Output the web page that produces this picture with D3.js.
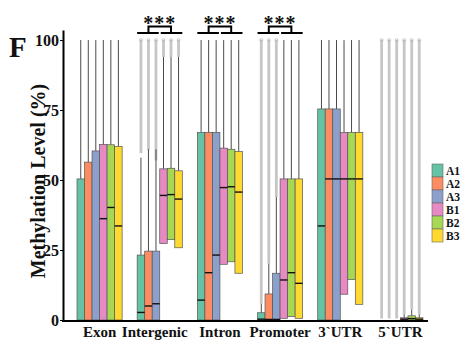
<!doctype html>
<html lang="en">
<head>
  <meta charset="utf-8">
  <title>Methylation level by region</title>
  <script src="https://cdnjs.cloudflare.com/ajax/libs/d3/7.8.5/d3.min.js"></script>
  <style>
    body { margin: 0; background: #fff; }
    text { font-family: "Liberation Serif", "Times New Roman", serif; font-weight: bold; fill: #111; }
  </style>
</head>
<body>
<svg width="472" height="362" id="svg"></svg>
<script>
  // regions on the x axis, samples inside each region
  var categories = ['Exon', 'Intergenic', 'Intron', 'Promoter', '3`UTR', '5`UTR'];
  var samples = ['A1', 'A2', 'A3', 'B1', 'B2', 'B3'];
  var yTicks = [0, 25, 50, 75, 100];

  // box statistics, one row per region, one column per sample
  var q1Vals = [
    [0, 0, 0, 0, 0, 0],
    [0, 0, 0, 27.3, 28.7, 25.8],
    [0, 0, 0, 19.9, 20.8, 16.7],
    [0, 0, 0, 0.6, 1.2, 0.6],
    [0, 0, 0, 9.2, 14.5, 5.6],
    [0, 0, 0, 0, 0, 0]
  ];
  var medVals = [
    [0, 0, 0, 36.2, 40.2, 33.6],
    [2.7, 5.0, 5.8, 44.5, 44.8, 43.2],
    [7.1, 16.9, 23.2, 47.3, 47.6, 45.7],
    [0.3, 0.2, 0.2, 14.3, 16.9, 13.1],
    [33.6, 50.4, 50.4, 50.4, 50.4, 50.4],
    [0, 0, 0, 0.3, 0.5, 0.3]
  ];
  var q3Vals = [
    [50.4, 56.4, 60.4, 62.7, 62.6, 62.0],
    [23.2, 24.6, 24.6, 54.0, 54.2, 53.3],
    [67.0, 67.0, 67.0, 61.4, 61.0, 60.2],
    [2.6, 9.3, 16.7, 50.4, 50.4, 50.4],
    [75.4, 75.4, 75.4, 67.0, 67.0, 67.0],
    [0, 0, 0, 0.8, 1.5, 0.8]
  ];
  var whiskerHi = [
    [100, 100, 100, 100, 100, 100],
    [58, 61, 61, 94, 94, 94],
    [100, 100, 100, 100, 100, 100],
    [5.7, 20.2, 44, 100, 100, 100],
    [100, 100, 100, 100, 100, 100],
    [0, 0, 0, 2, 3.8, 2]
  ];
  // lower end of the stacked outlier points (null = none)
  var outlierLo = [
    [null, null, null, null, null, null],
    [59.6, 60.7, 57, 94, 94, 94],
    [null, null, null, null, null, null],
    [5.7, 20.2, 44, null, null, null],
    [null, null, null, null, null, null],
    [0.5, 0.5, 0.5, 2, 3.8, 2]
  ];
  // regions marked with *** (A group vs B group)
  var sigRegions = ['Intergenic', 'Intron', 'Promoter'];

  var svg = d3.select('#svg');

  var x = d3.scaleBand()
    .domain(categories)
    .range([77, 423])
    .paddingInner(0.25)
    .paddingOuter(0);

  var xs = d3.scaleBand()
    .domain(samples)
    .range([0, x.bandwidth()])
    .padding(0);

  var y = d3.scaleLinear()
    .domain([0, 103.6])
    .range([320, 30]);

  var color = d3.scaleOrdinal()
    .domain(samples)
    .range(d3.schemeSet2.slice(0, 6));

  // flatten into one record per box
  var boxes = [];
  categories.forEach(function(c, i) {
    samples.forEach(function(s, j) {
      boxes.push({
        cat: c, sample: s,
        q1: q1Vals[i][j], med: medVals[i][j], q3: q3Vals[i][j],
        hi: whiskerHi[i][j], out: outlierLo[i][j]
      });
    });
  });

  var g = svg.append('g');

  function cx(d) { return x(d.cat) + xs(d.sample) + xs.bandwidth() / 2; }

  // outlier stacks
  var outs = boxes.filter(function(d) { return d.out !== null; });
  g.selectAll('line.out')
    .data(outs)
    .enter()
    .append('line')
    .attr('class', 'out')
    .attr('x1', cx).attr('x2', cx)
    .attr('y1', function(d) { return y(d.out); })
    .attr('y2', y(100))
    .attr('stroke', '#c6c6c6')
    .attr('stroke-width', 2.8);

  g.selectAll('circle.out')
    .data(outs)
    .enter()
    .append('circle')
    .attr('cx', cx)
    .attr('cy', y(100))
    .attr('r', 1.4)
    .attr('fill', 'none')
    .attr('stroke', '#b5b5b5')
    .attr('stroke-width', 0.8);

  // whiskers
  g.selectAll('line.whisker')
    .data(boxes)
    .enter()
    .append('line')
    .attr('class', 'whisker')
    .attr('x1', cx).attr('x2', cx)
    .attr('y1', function(d) { return y(d.q3); })
    .attr('y2', function(d) { return y(d.hi); })
    .attr('stroke', '#4a4a4a')
    .attr('stroke-width', 1);

  // boxes
  g.selectAll('rect.box')
    .data(boxes)
    .enter()
    .append('rect')
    .attr('class', 'box')
    .attr('x', function(d) { return x(d.cat) + xs(d.sample); })
    .attr('y', function(d) { return y(d.q3); })
    .attr('width', xs.bandwidth())
    .attr('height', function(d) { return y(d.q1) - y(d.q3); })
    .attr('fill', function(d) { return color(d.sample); })
    .attr('stroke', '#555')
    .attr('stroke-width', 0.7);

  // medians
  g.selectAll('line.med')
    .data(boxes.filter(function(d) { return d.med > d.q1; }))
    .enter()
    .append('line')
    .attr('x1', function(d) { return x(d.cat) + xs(d.sample); })
    .attr('x2', function(d) { return x(d.cat) + xs(d.sample) + xs.bandwidth(); })
    .attr('y1', function(d) { return y(d.med); })
    .attr('y2', function(d) { return y(d.med); })
    .attr('stroke', '#111')
    .attr('stroke-width', 1.4);

  // axes
  var yAxis = svg.append('g')
    .attr('transform', 'translate(63,0)')
    .call(d3.axisLeft(y).tickValues(yTicks).tickSize(3).tickSizeOuter(0));
  yAxis.select('.domain').attr('stroke', '#000').attr('stroke-width', 2);
  yAxis.selectAll('.tick line').attr('stroke', '#000');
  yAxis.selectAll('.tick text')
    .attr('x', -4)
    .style('font-size', '16px')
    .style('font-family', '"Liberation Serif", serif')
    .style('font-weight', 'bold');

  svg.append('line')
    .attr('x1', 62).attr('x2', 428)
    .attr('y1', y(0) + 1).attr('y2', y(0) + 1)
    .attr('stroke', '#000')
    .attr('stroke-width', 2);

  svg.selectAll('text.xlab')
    .data(categories)
    .enter()
    .append('text')
    .attr('class', 'xlab')
    .attr('x', function(d) { return x(d) + x.bandwidth() / 2 - (d === 'Intergenic' ? 5 : 0); })
    .attr('y', 337)
    .attr('text-anchor', 'middle')
    .style('font-size', '15px')
    .text(function(d) { return d; });

  svg.append('text')
    .attr('transform', 'translate(45,181) rotate(-90)')
    .attr('text-anchor', 'middle')
    .style('font-size', '20px')
    .text('Methylation Level (%)');

  svg.append('text')
    .attr('x', 9).attr('y', 57)
    .style('font-size', '29px')
    .text('F');

  // significance brackets
  var aEnd = xs('A3') + xs.bandwidth();
  var bStart = xs('B1');
  sigRegions.forEach(function(c) {
    var x0 = x(c);
    var aMid = x0 + aEnd / 2;
    var bMid = x0 + bStart + (x.bandwidth() - bStart) / 2;
    var sg = svg.append('g').attr('fill', 'none').attr('stroke', '#000').attr('stroke-width', 2);
    sg.append('line').attr('x1', x0).attr('x2', x0 + aEnd - 1).attr('y1', 33).attr('y2', 33);
    sg.append('line').attr('x1', x0 + bStart + 1).attr('x2', x0 + x.bandwidth()).attr('y1', 33).attr('y2', 33);
    sg.append('path').attr('d', 'M' + aMid + ',33V26.5H' + bMid + 'V33');
    svg.append('text')
      .attr('x', x0 + x.bandwidth() / 2)
      .attr('y', 30)
      .attr('text-anchor', 'middle')
      .style('font-size', '20px')
      .style('letter-spacing', '1px')
      .text('***');
  });

  // legend
  var legend = svg.selectAll('g.legend')
    .data(samples)
    .enter()
    .append('g')
    .attr('class', 'legend')
    .attr('transform', function(d, i) { return 'translate(432,' + (164 + i * 13) + ')'; });
  legend.append('rect')
    .attr('width', 11).attr('height', 13)
    .attr('fill', function(d) { return color(d); })
    .attr('stroke', '#666')
    .attr('stroke-width', 0.6);
  legend.append('text')
    .attr('x', 14).attr('y', 10.5)
    .style('font-size', '11.5px')
    .text(function(d) { return d; });
</script>
</body>
</html>
